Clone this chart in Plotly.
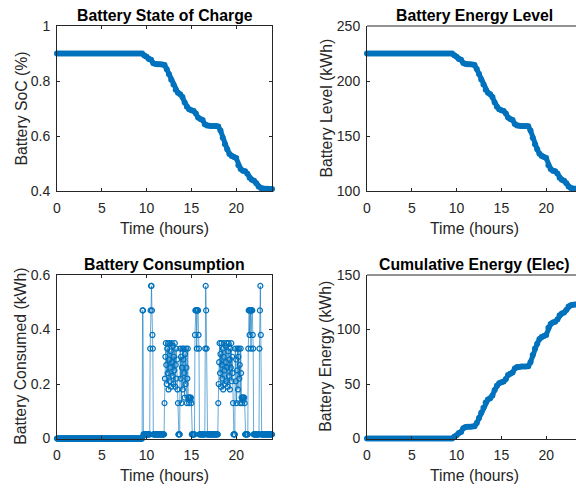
import numpy as np
import plotly.graph_objects as go

# ---------------- data ----------------
# quarter-hour time grid for the state/level/cumulative curves
t_q = np.round(np.arange(0, 24.001, 0.25), 2)

soc = [0.9] * 39 + [
    0.893, 0.888, 0.880, 0.877, 0.865, 0.862, 0.861, 0.861, 0.860, 0.858,
    0.843, 0.825, 0.805, 0.787, 0.768, 0.757, 0.752, 0.742, 0.722, 0.706, 0.697, 0.694,
    0.691, 0.682, 0.667, 0.662, 0.658, 0.643, 0.638, 0.637, 0.636, 0.636, 0.636, 0.635,
    0.620, 0.594, 0.570, 0.552, 0.535, 0.527, 0.524, 0.520, 0.494, 0.480, 0.474, 0.472,
    0.463, 0.448, 0.441, 0.437, 0.428, 0.416, 0.411, 0.409, 0.408, 0.408, 0.407, 0.407]

level = [225.0] * 39 + [
    223.3, 222.0, 220.0, 219.3, 216.3, 215.5, 215.3, 215.3, 215.0, 214.5,
    210.8, 206.3, 201.3, 196.8, 192.0, 189.3, 188.0, 185.5, 180.5, 176.5, 174.3, 173.5,
    172.8, 170.5, 166.8, 165.5, 164.5, 160.8, 159.5, 159.3, 159.0, 159.0, 159.0, 158.8,
    155.0, 148.5, 142.5, 138.0, 133.8, 131.8, 131.0, 130.0, 123.5, 120.0, 118.5, 118.0,
    115.8, 112.0, 110.3, 109.3, 107.0, 104.0, 102.8, 102.3, 102.0, 102.0, 101.8, 101.8]

cumulative = [0.0] * 39 + [
    1.7, 3.0, 5.0, 6.0, 9.5, 10.5, 10.8, 10.8, 11.0, 11.2,
    14.2, 18.7, 23.7, 28.2, 33.0, 35.7, 37.0, 39.5, 44.5, 48.5, 50.7, 51.5,
    52.2, 54.5, 58.2, 59.5, 60.5, 64.2, 65.5, 65.7, 66.0, 66.0, 66.0, 66.2,
    70.0, 76.5, 82.5, 87.0, 91.2, 93.2, 94.0, 95.0, 101.5, 105.0, 106.5, 107.0,
    109.2, 113.0, 114.7, 115.7, 118.0, 121.0, 122.2, 122.7, 123.0, 123.0, 123.2, 123.2]

# consumption per 3-minute step (kWh), read block by block
consumption = (
    [0.0] * 191
    + [0.47, 0.47]
    + [0.015] * 15
    + [0.33, 0.47, 0.56, 0.56, 0.47, 0.38, 0.33]
    + [0.015] * 25
    + [0.13, 0.22, 0.30, 0.35, 0.27, 0.20, 0.33, 0.24, 0.35, 0.18, 0.29, 0.35, 0.21, 0.26,
       0.32, 0.19, 0.35, 0.28, 0.23, 0.34, 0.20, 0.30, 0.25, 0.35, 0.19, 0.27, 0.33, 0.22,
       0.29, 0.18, 0.13]
    + [0.015] * 4
    + [0.33, 0.22, 0.30, 0.13, 0.26, 0.33, 0.18, 0.29, 0.33, 0.24, 0.15, 0.31, 0.20, 0.33,
       0.26, 0.13, 0.22, 0.33]
    + [0.15, 0.15, 0.13, 0.15, 0.15, 0.14, 0.15, 0.13]
    + [0.015] * 7
    + [0.38, 0.47, 0.47, 0.47, 0.33, 0.47, 0.47, 0.47, 0.38, 0.33]
    + [0.015] * 13
    + [0.33, 0.56, 0.47, 0.33]
    + [0.015] * 25
    + [0.13, 0.20, 0.28, 0.35, 0.24, 0.31, 0.19, 0.35, 0.27, 0.22, 0.33, 0.18, 0.30, 0.35,
       0.25, 0.20, 0.34, 0.28, 0.21, 0.35, 0.26, 0.19, 0.32, 0.35, 0.23, 0.29, 0.18, 0.33,
       0.26, 0.35, 0.21, 0.30, 0.24, 0.13]
    + [0.015] * 4
    + [0.33, 0.21, 0.29, 0.13, 0.25, 0.33, 0.18, 0.30, 0.33, 0.22, 0.27, 0.13, 0.33, 0.24]
    + [0.15, 0.13, 0.15, 0.15, 0.14, 0.15, 0.15, 0.13]
    + [0.015] * 7
    + [0.33, 0.47, 0.47, 0.38, 0.47, 0.47, 0.33, 0.47, 0.47, 0.47, 0.38, 0.33]
    + [0.015] * 13
    + [0.33, 0.47, 0.56, 0.38]
    + [0.015] * 25
)
t_c = np.round(np.arange(len(consumption)) * 0.05, 2)

titles = ["Battery State of Charge", "Battery Energy Level",
          "Battery Consumption", "Cumulative Energy (Elec)"]
ylabels = ["Battery SoC (%)", "Battery Level (kWh)",
           "Battery Consumed (kWh)", "Battery Energy (kWh)"]
xlabel = "Time (hours)"
x_ticks = [0, 5, 10, 15, 20]
y_ticks = [[0.4, 0.6, 0.8, 1], [100, 150, 200, 250], [0, 0.2, 0.4, 0.6], [0, 50, 100, 150]]
y_ranges = [[0.4, 1], [100, 250], [0, 0.6], [0, 150]]

# ---------------- layout geometry ----------------
W, H = 576, 489
BLUE = "#0072BD"
DARK = "#262626"
FONT = "Liberation Sans, Arial, Helvetica, sans-serif"

cols = [(57, 272), (367, 582)]      # pixel x extents of axes boxes
rows = [(26, 191), (275, 438.5)]    # pixel y extents (top, bottom)
ylab_off = [36, 41]
px_per_h = (cols[0][1] - cols[0][0]) / 24.0

fig = go.Figure()
annotations = []
shapes = []

for k in range(4):
    r, c = divmod(k, 2)
    x0, x1 = cols[c]
    y0, y1 = rows[r]
    dom_x = [x0 / W, min(x1, W) / W]
    dom_y = [1 - y1 / H, 1 - y0 / H]
    xmax = 24 if c == 0 else (W - x0) / px_per_h
    sfx = "" if k == 0 else str(k + 1)
    xa, ya = "x" + sfx, "y" + sfx

    if k == 0:
        tr = go.Scatter(x=t_q, y=soc)
    elif k == 1:
        tr = go.Scatter(x=t_q, y=level)
    elif k == 3:
        tr = go.Scatter(x=t_q, y=cumulative)
    else:
        tr = None

    if tr is not None:
        tr.update(mode="lines+markers", line=dict(color=BLUE, width=5),
                  marker=dict(color=BLUE, size=6), cliponaxis=False,
                  xaxis=xa, yaxis=ya, showlegend=False)
    else:
        tr = go.Scatter(x=t_c, y=consumption, mode="lines+markers",
                        line=dict(color="rgba(0,114,189,0.6)", width=1),
                        marker=dict(symbol="circle-open", color=BLUE, size=5,
                                    line=dict(width=1.2, color=BLUE)),
                        cliponaxis=False, xaxis=xa, yaxis=ya, showlegend=False)
    fig.add_trace(tr)

    mirror = "ticks" if c == 0 else False
    axis_common = dict(showgrid=False, zeroline=False, showline=True, linecolor=DARK,
                       linewidth=1, ticks="inside", ticklen=3, tickcolor=DARK,
                       tickfont=dict(family=FONT, size=14, color=DARK),
                       mirror=mirror, automargin=False)
    fig.layout["xaxis" + sfx] = dict(domain=dom_x, range=[0, xmax], tickvals=x_ticks,
                                     anchor=ya, ticklabelstandoff=4, **axis_common)
    fig.layout["yaxis" + sfx] = dict(domain=dom_y, range=y_ranges[k], tickvals=y_ticks[k],
                                     anchor=xa, ticklabelstandoff=3, **axis_common)
    if c == 1:
        shapes.append(dict(type="line", xref=xa + " domain", yref=ya + " domain",
                           x0=0, x1=1, y0=1, y1=1, line=dict(color=DARK, width=1)))

    cx = (x0 + x1) / 2
    annotations.append(dict(text="<b>" + titles[k] + "</b>", x=cx / W, y=1 - (y0 - 11) / H,
                            xref="paper", yref="paper", showarrow=False,
                            xanchor="center", yanchor="middle",
                            font=dict(family=FONT, size=15.8, color="#000000")))
    annotations.append(dict(text=xlabel, x=cx / W, y=1 - (y1 + 37) / H,
                            xref="paper", yref="paper", showarrow=False,
                            xanchor="center", yanchor="middle",
                            font=dict(family=FONT, size=15.8, color=DARK)))
    annotations.append(dict(text=ylabels[k], x=(x0 - ylab_off[c]) / W, y=1 - (y0 + y1) / 2 / H,
                            xref="paper", yref="paper", showarrow=False, textangle=-90,
                            xanchor="center", yanchor="middle",
                            font=dict(family=FONT, size=15.8, color=DARK)))

fig.update_layout(width=W, height=H, margin=dict(l=0, r=0, t=0, b=0),
                  paper_bgcolor="white", plot_bgcolor="white",
                  annotations=annotations, shapes=shapes, showlegend=False)

fig.write_html("out.html")
